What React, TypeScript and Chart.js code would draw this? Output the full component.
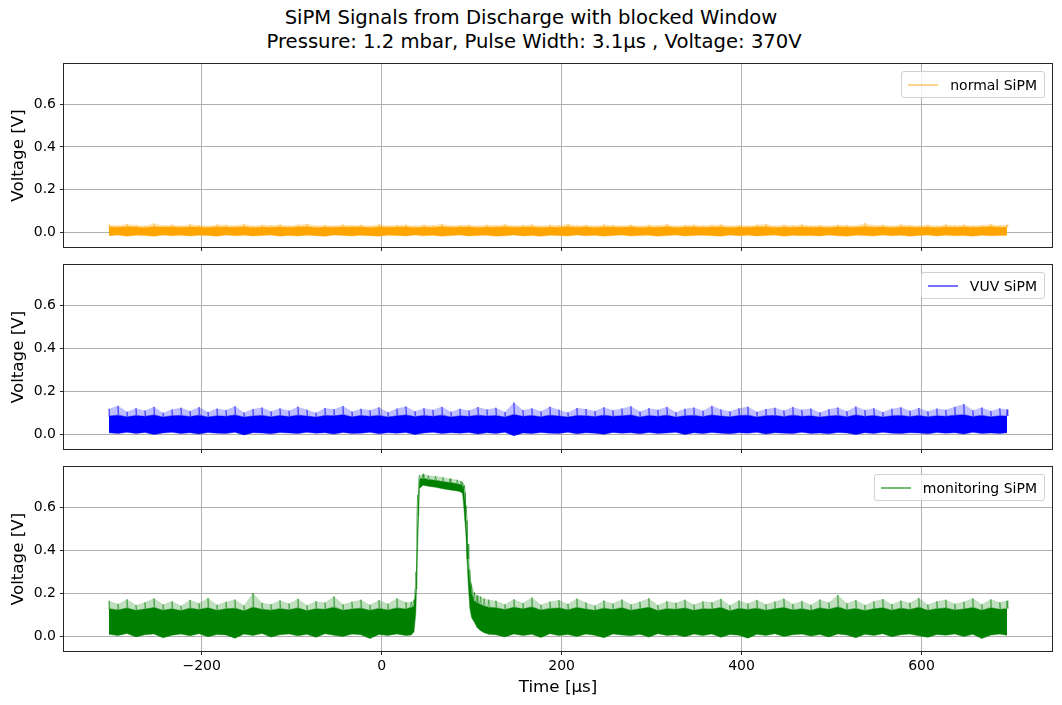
import { useEffect, useRef } from 'react';
import { Chart, registerables } from 'chart.js';

Chart.register(...registerables);
Chart.defaults.font.family = "'DejaVu Sans', sans-serif";

// axis ticks
const xTicks = [-200, 0, 200, 400, 600];
const yTicks = [0, 0.2, 0.4, 0.6];

// sample times [µs] for the normal and VUV traces
const sampleTimes = [
  -303, -293, -283, -273, -263, -253, -243, -233, -223, -213,
  -203, -193, -183, -173, -163, -153, -143, -133, -123, -113,
  -103, -93, -83, -73, -63, -53, -43, -33, -23, -13,
  -3, 7, 17, 27, 37, 47, 57, 67, 77, 87,
  97, 107, 117, 127, 137, 147, 157, 167, 177, 187,
  197, 207, 217, 227, 237, 247, 257, 267, 277, 287,
  297, 307, 317, 327, 337, 347, 357, 367, 377, 387,
  397, 407, 417, 427, 437, 447, 457, 467, 477, 487,
  497, 507, 517, 527, 537, 547, 557, 567, 577, 587,
  597, 607, 617, 627, 637, 647, 657, 667, 677, 687,
  695,
];

// normal SiPM: spike tips, dense band top, band bottom [V]
const normalPeak = [
  0.036, 0.031, 0.038, 0.033, 0.030, 0.041, 0.032, 0.035, 0.030, 0.037,
  0.033, 0.029, 0.036, 0.034, 0.031, 0.038, 0.030, 0.034, 0.032, 0.036,
  0.030, 0.035, 0.039, 0.031, 0.033, 0.030, 0.036, 0.032, 0.034, 0.030,
  0.037, 0.031, 0.033, 0.035, 0.030, 0.034, 0.032, 0.038, 0.031, 0.033,
  0.035, 0.030, 0.034, 0.032, 0.037, 0.031, 0.033, 0.036, 0.030, 0.034,
  0.032, 0.038, 0.031, 0.034, 0.030, 0.036, 0.033, 0.031, 0.035, 0.030,
  0.034, 0.032, 0.037, 0.030, 0.033, 0.035, 0.031, 0.034, 0.036, 0.030,
  0.033, 0.031, 0.035, 0.038, 0.030, 0.034, 0.032, 0.036, 0.031, 0.033,
  0.030, 0.035, 0.033, 0.031, 0.042, 0.032, 0.034, 0.030, 0.036, 0.033,
  0.031, 0.034, 0.030, 0.036, 0.032, 0.035, 0.031, 0.033, 0.037, 0.032,
  0.034,
];
const normalCore = [
  0.025, 0.023, 0.026, 0.024, 0.022, 0.026, 0.024, 0.025, 0.023, 0.025,
  0.024, 0.022, 0.025, 0.024, 0.023, 0.026, 0.022, 0.024, 0.023, 0.025,
  0.023, 0.025, 0.026, 0.022, 0.024, 0.023, 0.025, 0.024, 0.025, 0.022,
  0.025, 0.023, 0.024, 0.025, 0.022, 0.024, 0.023, 0.026, 0.023, 0.024,
  0.025, 0.022, 0.024, 0.023, 0.026, 0.023, 0.024, 0.025, 0.022, 0.024,
  0.023, 0.026, 0.023, 0.025, 0.022, 0.025, 0.024, 0.023, 0.025, 0.022,
  0.024, 0.023, 0.026, 0.022, 0.024, 0.025, 0.023, 0.024, 0.025, 0.022,
  0.024, 0.023, 0.025, 0.026, 0.022, 0.024, 0.023, 0.025, 0.023, 0.024,
  0.022, 0.025, 0.024, 0.023, 0.027, 0.023, 0.025, 0.022, 0.025, 0.024,
  0.023, 0.024, 0.022, 0.025, 0.023, 0.025, 0.023, 0.024, 0.026, 0.023,
  0.024,
];
const normalFloor = [
  -0.017, -0.014, -0.019, -0.015, -0.016, -0.020, -0.014, -0.017, -0.015, -0.018,
  -0.015, -0.016, -0.019, -0.014, -0.017, -0.015, -0.018, -0.016, -0.014, -0.019,
  -0.016, -0.018, -0.015, -0.017, -0.020, -0.014, -0.016, -0.018, -0.015, -0.017,
  -0.019, -0.015, -0.016, -0.018, -0.014, -0.017, -0.015, -0.019, -0.016, -0.014,
  -0.018, -0.016, -0.015, -0.019, -0.017, -0.014, -0.018, -0.016, -0.020, -0.015,
  -0.016, -0.018, -0.014, -0.017, -0.015, -0.019, -0.016, -0.014, -0.018, -0.016,
  -0.015, -0.019, -0.016, -0.014, -0.018, -0.016, -0.015, -0.017, -0.019, -0.014,
  -0.017, -0.015, -0.018, -0.016, -0.014, -0.019, -0.015, -0.017, -0.016, -0.018,
  -0.014, -0.017, -0.019, -0.015, -0.016, -0.018, -0.014, -0.017, -0.015, -0.019,
  -0.016, -0.014, -0.018, -0.015, -0.017, -0.016, -0.019, -0.015, -0.017, -0.016,
  -0.015,
];

// VUV SiPM
const vuvPeak = [
  0.118, 0.132, 0.104, 0.121, 0.110, 0.127, 0.099, 0.115, 0.123, 0.108,
  0.126, 0.103, 0.119, 0.112, 0.130, 0.101, 0.117, 0.124, 0.106, 0.120,
  0.109, 0.128, 0.114, 0.100, 0.122, 0.116, 0.131, 0.105, 0.118, 0.111,
  0.125, 0.102, 0.119, 0.129, 0.107, 0.121, 0.113, 0.127, 0.104, 0.118,
  0.110, 0.126, 0.115, 0.123, 0.103, 0.147, 0.112, 0.120, 0.106, 0.128,
  0.114, 0.101, 0.122, 0.117, 0.108, 0.125, 0.111, 0.119, 0.130, 0.105,
  0.121, 0.113, 0.127, 0.102, 0.118, 0.124, 0.109, 0.132, 0.115, 0.106,
  0.120, 0.128, 0.104, 0.117, 0.123, 0.110, 0.126, 0.113, 0.119, 0.101,
  0.116, 0.124, 0.107, 0.129, 0.112, 0.121, 0.103, 0.118, 0.125, 0.109,
  0.122, 0.106, 0.119, 0.113, 0.127, 0.140, 0.111, 0.124, 0.108, 0.120,
  0.115,
];
const vuvCore = [
  0.084, 0.088, 0.081, 0.086, 0.083, 0.089, 0.080, 0.085, 0.087, 0.082,
  0.088, 0.080, 0.085, 0.083, 0.089, 0.079, 0.084, 0.087, 0.081, 0.086,
  0.082, 0.088, 0.084, 0.079, 0.086, 0.085, 0.090, 0.081, 0.086, 0.083,
  0.087, 0.080, 0.085, 0.089, 0.082, 0.086, 0.083, 0.088, 0.080, 0.085,
  0.083, 0.088, 0.084, 0.086, 0.080, 0.091, 0.083, 0.086, 0.081, 0.088,
  0.084, 0.079, 0.086, 0.085, 0.082, 0.088, 0.083, 0.085, 0.089, 0.080,
  0.086, 0.083, 0.088, 0.079, 0.085, 0.087, 0.082, 0.089, 0.084, 0.081,
  0.086, 0.088, 0.080, 0.085, 0.087, 0.082, 0.088, 0.083, 0.085, 0.079,
  0.084, 0.087, 0.081, 0.089, 0.083, 0.086, 0.080, 0.085, 0.087, 0.082,
  0.086, 0.081, 0.085, 0.083, 0.088, 0.090, 0.082, 0.087, 0.081, 0.085,
  0.084,
];
const vuvFloor = [
  0.006, 0.002, 0.008, 0.003, 0.007, -0.002, 0.005, 0.008, 0.002, 0.006,
  0.000, 0.007, 0.004, 0.003, 0.008, -0.004, 0.006, 0.005, 0.001, 0.007,
  0.005, 0.002, 0.008, 0.004, 0.006, 0.000, 0.007, 0.003, 0.004, 0.008,
  0.001, 0.006, 0.004, 0.007, -0.002, 0.005, 0.008, 0.002, 0.006, 0.004,
  0.007, 0.000, 0.006, 0.003, 0.008, -0.008, 0.005, 0.002, 0.007, 0.004,
  0.003, 0.008, 0.001, 0.006, 0.004, -0.001, 0.007, 0.004, 0.006, 0.001,
  0.007, 0.003, 0.005, 0.008, -0.002, 0.006, 0.002, 0.007, 0.004, 0.001,
  0.006, 0.004, 0.008, 0.000, 0.006, 0.004, 0.002, 0.008, 0.003, 0.005,
  0.001, 0.007, 0.005, -0.002, 0.006, 0.003, 0.008, 0.004, 0.002, 0.006,
  0.005, 0.001, 0.007, 0.004, 0.006, 0.000, 0.008, 0.003, 0.005, 0.002,
  0.006,
];

// monitoring SiPM, denser sampling around the pulse
const monitorTimes = [
  -303, -293, -283, -273, -263, -253, -243, -233, -223, -213,
  -203, -193, -183, -173, -163, -153, -143, -133, -123, -113,
  -103, -93, -83, -73, -63, -53, -43, -33, -23, -13,
  -3, 7, 17, 27,
  33, 36, 38, 40, 42, 46, 52, 60, 68, 76, 84, 88, 90, 92, 94, 96, 98, 100, 103, 106, 110, 114, 119,
  127, 137, 147, 157, 167, 177, 187, 197, 207, 217,
  227, 237, 247, 257, 267, 277, 287, 297, 307, 317,
  327, 337, 347, 357, 367, 377, 387, 397, 407, 417,
  427, 437, 447, 457, 467, 477, 487, 497, 507, 517,
  527, 537, 547, 557, 567, 577, 587, 597, 607, 617,
  627, 637, 647, 657, 667, 677, 687, 695,
];
const monitorPeak = [
  0.165, 0.150, 0.172, 0.145, 0.158, 0.176, 0.148, 0.162, 0.141, 0.169,
  0.153, 0.178, 0.146, 0.160, 0.171, 0.143, 0.201, 0.155, 0.149, 0.167,
  0.152, 0.174, 0.144, 0.163, 0.157, 0.186, 0.148, 0.160, 0.170, 0.146,
  0.168, 0.151, 0.176, 0.158,
  0.160, 0.170, 0.300, 0.660, 0.752, 0.758, 0.750, 0.748, 0.742, 0.736, 0.730, 0.725, 0.720, 0.705, 0.610, 0.430, 0.310, 0.240, 0.205, 0.190, 0.185, 0.175, 0.170,
  0.165, 0.148, 0.172, 0.154, 0.180, 0.146, 0.161, 0.168, 0.150, 0.175,
  0.157, 0.143, 0.166, 0.152, 0.171, 0.148, 0.160, 0.177, 0.145, 0.163,
  0.155, 0.170, 0.147, 0.162, 0.158, 0.174, 0.144, 0.166, 0.152, 0.169,
  0.148, 0.161, 0.175, 0.150, 0.164, 0.146, 0.171, 0.157, 0.192, 0.153,
  0.168, 0.145, 0.162, 0.173, 0.149, 0.166, 0.155, 0.178, 0.147, 0.163,
  0.170, 0.151, 0.160, 0.176, 0.148, 0.172, 0.158, 0.165,
];
const monitorCore = [
  0.128, 0.122, 0.131, 0.120, 0.126, 0.133, 0.121, 0.127, 0.119, 0.130,
  0.124, 0.132, 0.120, 0.127, 0.130, 0.118, 0.134, 0.125, 0.121, 0.128,
  0.123, 0.131, 0.119, 0.127, 0.125, 0.135, 0.121, 0.126, 0.130, 0.120,
  0.129, 0.122, 0.131, 0.126,
  0.135, 0.140, 0.220, 0.560, 0.735, 0.738, 0.732, 0.728, 0.722, 0.717, 0.712, 0.707, 0.700, 0.670, 0.540, 0.360, 0.250, 0.200, 0.165, 0.155, 0.148, 0.140, 0.135,
  0.132, 0.124, 0.134, 0.127, 0.136, 0.122, 0.129, 0.131, 0.123, 0.133,
  0.126, 0.120, 0.130, 0.124, 0.132, 0.121, 0.127, 0.134, 0.119, 0.128,
  0.125, 0.131, 0.120, 0.127, 0.126, 0.133, 0.118, 0.129, 0.124, 0.130,
  0.121, 0.127, 0.133, 0.122, 0.128, 0.120, 0.131, 0.125, 0.136, 0.123,
  0.129, 0.119, 0.127, 0.132, 0.121, 0.130, 0.124, 0.134, 0.120, 0.128,
  0.131, 0.122, 0.126, 0.133, 0.121, 0.132, 0.125, 0.128,
];
const monitorFloor = [
  0.008, 0.002, 0.012, -0.004, 0.006, 0.010, -0.008, 0.004, 0.009, 0.001,
  0.011, -0.003, 0.007, 0.005, -0.010, 0.009, 0.003, 0.012, -0.005, 0.006,
  0.010, 0.001, 0.008, -0.006, 0.011, 0.004, -0.002, 0.009, 0.006, -0.012,
  0.007, 0.003, 0.010, 0.002,
  0.005, 0.020, 0.110, 0.420, 0.690, 0.705, 0.700, 0.695, 0.688, 0.683, 0.678, 0.673, 0.665, 0.570, 0.450, 0.260, 0.130, 0.085, 0.065, 0.040, 0.025, 0.015, 0.008,
  0.006, -0.004, 0.010, 0.003, 0.008, -0.007, 0.011, 0.002, 0.007, -0.002,
  0.009, 0.004, -0.008, 0.010, 0.005, 0.001, 0.008, -0.005, 0.011, 0.003,
  0.006, -0.003, 0.009, 0.002, 0.010, -0.006, 0.007, 0.004, -0.010, 0.008,
  0.003, 0.011, -0.002, 0.006, 0.009, 0.000, 0.007, -0.004, 0.010, 0.005,
  -0.008, 0.008, 0.003, 0.011, -0.003, 0.006, 0.009, 0.001, -0.006, 0.007,
  0.004, 0.010, -0.002, 0.008, -0.012, 0.005, 0.009, 0.004,
];

const X_MIN = -353;
const X_MAX = 745;
const Y_MIN = -0.07;
const Y_MAX = 0.79;
const SPIKE_HALF = 0.9; // half width of a drawn noise spike, µs

const toPoints = (t: number[], v: number[]) => t.map((x, i) => ({ x, y: v[i] }));
// each spike tip rises from the dense band and falls back to it
const toSpikes = (t: number[], tip: number[], base: number[]) =>
  t.flatMap((x, i) => [
    { x: x - SPIKE_HALF, y: base[i] },
    { x, y: tip[i] },
    { x: x + SPIKE_HALF, y: base[i] },
  ]);

const frame = {
  id: 'frame',
  afterDraw(chart: Chart) {
    const { ctx, chartArea } = chart;
    ctx.save();
    ctx.strokeStyle = '#262626';
    ctx.lineWidth = 1;
    ctx.strokeRect(chartArea.left - 0.5, chartArea.top - 0.5, chartArea.right - chartArea.left + 1, chartArea.bottom - chartArea.top + 1);
    ctx.restore();
  },
};

interface PanelProps {
  top: number;
  height: number;
  axisHeight: number;
  label: string;
  color: string;
  haze: string;
  fringe: string;
  times: number[];
  peak: number[];
  core: number[];
  floor: number[];
  bottomAxis: boolean;
}

function Panel({ top, height, axisHeight, label, color, haze, fringe, times, peak, core, floor, bottomAxis }: PanelProps) {
  const canvasRef = useRef<HTMLCanvasElement>(null);

  useEffect(() => {
    if (!canvasRef.current) return;
    const chart = new Chart(canvasRef.current, {
      type: 'line',
      data: {
        datasets: [
          { data: toPoints(times, floor), borderColor: fringe, borderWidth: 0.8, pointRadius: 0, fill: false },
          { data: toPoints(times, core), borderColor: color, borderWidth: 0, backgroundColor: color, pointRadius: 0, fill: '-1' },
          { data: toPoints(times, peak), borderColor: 'transparent', borderWidth: 0, backgroundColor: haze, pointRadius: 0, fill: 1 },
          { data: toSpikes(times, peak, core), borderColor: fringe, borderWidth: 0.9, pointRadius: 0, fill: false },
        ],
      },
      options: {
        animation: false,
        responsive: false,
        layout: { padding: { left: 0, right: 10, top: 8, bottom: 0 } },
        plugins: { legend: { display: false }, tooltip: { enabled: false } },
        scales: {
          x: {
            type: 'linear',
            min: X_MIN,
            max: X_MAX,
            afterBuildTicks: (s: any) => { s.ticks = xTicks.map(value => ({ value })); },
            afterFit: (s: any) => { s.height = axisHeight; s.paddingLeft = 0; s.paddingRight = 0; },
            grid: { color: '#b0b0b0', lineWidth: 1, drawTicks: true, tickLength: 4, tickColor: '#262626', tickWidth: 1 },
            border: { display: false },
            ticks: {
              display: bottomAxis,
              color: '#000',
              font: { size: 14 },
              padding: 3,
              maxRotation: 0,
              callback: (v: any) => (v < 0 ? '\u2212' + Math.abs(v) : String(v)),
            },
            title: {
              display: bottomAxis,
              text: 'Time [µs]',
              color: '#000',
              font: { size: 16.7 },
              padding: { top: 0, bottom: 7 },
            },
          },
          y: {
            type: 'linear',
            min: Y_MIN,
            max: Y_MAX,
            afterBuildTicks: (s: any) => { s.ticks = yTicks.map(value => ({ value })); },
            afterFit: (s: any) => { s.width = 64; s.paddingTop = 0; s.paddingBottom = 0; },
            grid: { color: '#b0b0b0', lineWidth: 1, drawTicks: true, tickLength: 4, tickColor: '#262626', tickWidth: 1 },
            border: { display: false },
            ticks: { color: '#000', font: { size: 14 }, padding: 4, callback: (v: any) => Number(v).toFixed(1) },
            title: { display: true, text: 'Voltage [V]', color: '#000', font: { size: 16.7 }, padding: { top: 9, bottom: 0 } },
          },
        },
      },
      plugins: [frame],
    });
    return () => chart.destroy();
  }, []);

  return (
    <>
      <canvas ref={canvasRef} width={1062} height={height} style={{ position: 'absolute', left: 0, top, width: 1062, height }} />
      <div
        style={{
          position: 'absolute',
          right: 17,
          top: top + 15,
          height: 25,
          display: 'flex',
          alignItems: 'center',
          padding: '0 7px 0 6px',
          border: '1px solid #d0d0d0',
          borderRadius: 3,
          background: 'rgba(255,255,255,0.8)',
          fontFamily: "'DejaVu Sans', sans-serif",
          fontSize: 14,
          color: '#000',
        }}
      >
        <span style={{ display: 'block', width: 30, height: 2, background: fringe, marginRight: 12 }} />
        {label}
      </div>
    </>
  );
}

export default function App() {
  useEffect(() => {
    document.body.style.margin = '0';
  }, []);

  return (
    <div style={{ position: 'relative', width: 1062, height: 705, background: '#fff', overflow: 'hidden' }}>
      <div
        style={{
          position: 'absolute',
          left: 0,
          top: 6,
          width: 1062,
          textAlign: 'center',
          fontFamily: "'DejaVu Sans', sans-serif",
          fontSize: 19.6,
          lineHeight: '24px',
          whiteSpace: 'pre',
          color: '#000',
        }}
      >
        {'SiPM Signals from Discharge with blocked Window\n Pressure: 1.2 mbar, Pulse Width: 3.1µs , Voltage: 370V'}
      </div>
      <Panel top={56} height={201} axisHeight={10} label="normal SiPM" color="#ffa500" haze="rgba(255,165,0,0.3)"
        fringe="rgba(255,165,0,0.45)" times={sampleTimes} peak={normalPeak} core={normalCore} floor={normalFloor} bottomAxis={false} />
      <Panel top={257} height={202} axisHeight={10} label="VUV SiPM" color="#0000ff" haze="rgba(0,0,255,0.25)"
        fringe="rgba(0,0,255,0.55)" times={sampleTimes} peak={vuvPeak} core={vuvCore} floor={vuvFloor} bottomAxis={false} />
      <Panel top={459} height={246} axisHeight={54} label="monitoring SiPM" color="#008000" haze="rgba(0,128,0,0.25)"
        fringe="rgba(0,128,0,0.55)" times={monitorTimes} peak={monitorPeak} core={monitorCore} floor={monitorFloor} bottomAxis={true} />
    </div>
  );
}
